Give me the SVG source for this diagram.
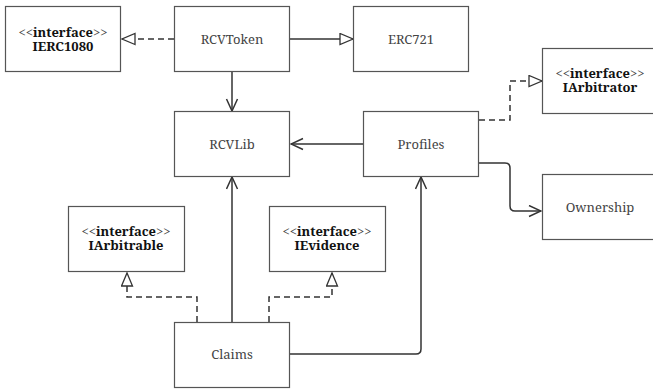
<svg xmlns="http://www.w3.org/2000/svg" width="653" height="392" viewBox="0 0 653 392">
<style>
.box{fill:#fff;stroke:#555;stroke-width:1.2}
.t{font-family:"Noto Serif","Liberation Serif",serif;font-size:13px;fill:#444;text-anchor:middle}
.b{font-weight:bold;fill:#111}
.ln{fill:none;stroke:#333;stroke-width:1.5}
.d{stroke-dasharray:6 4}
</style>
<defs>
<marker id="tri" markerUnits="userSpaceOnUse" markerWidth="16" markerHeight="14" refX="14" refY="6.5" orient="auto">
<path d="M1,1 L14,6.5 L1,12 Z" fill="#fff" stroke="#333" stroke-width="1.3"/>
</marker>
<marker id="open" markerUnits="userSpaceOnUse" markerWidth="14" markerHeight="14" refX="13" refY="6.5" orient="auto">
<path d="M1,1 L13,6.5 L1,12" fill="none" stroke="#333" stroke-width="1.5"/>
</marker>
</defs>
<g id="connectors">
<path class="ln d" d="M174,39 H122" marker-end="url(#tri)"/>
<path class="ln" d="M290,39 H353" marker-end="url(#tri)"/>
<path class="ln" d="M232,71 V111" marker-end="url(#open)"/>
<path class="ln" d="M363,144 H291" marker-end="url(#open)"/>
<path class="ln d" d="M479,120 H510 V81 H542" marker-end="url(#tri)"/>
<path class="ln" d="M479,163 H505 Q510,163 510,168 V206 Q510,211 515,211 H541" marker-end="url(#open)"/>
<path class="ln" d="M232,322 V177" marker-end="url(#open)"/>
<path class="ln d" d="M197,322 V297 H127 V273" marker-end="url(#tri)"/>
<path class="ln d" d="M269,322 V297 H332 V273" marker-end="url(#tri)"/>
<path class="ln" d="M290,354 H416 Q421,354 421,349 V177" marker-end="url(#open)"/>
</g>
<g id="IERC1080">
<rect class="box" x="5.5" y="6.5" width="115" height="65"/>
<text class="t" x="63" y="37"><tspan>&lt;&lt;</tspan><tspan class="b">interface</tspan><tspan>&gt;&gt;</tspan></text>
<text class="t b" x="63" y="51">IERC1080</text>
</g>
<g id="RCVToken">
<rect class="box" x="174.5" y="6.5" width="115" height="65"/>
<text class="t" x="232" y="43.5">RCVToken</text>
</g>
<g id="ERC721">
<rect class="box" x="353.5" y="6.5" width="115" height="65"/>
<text class="t" x="411" y="43.5">ERC721</text>
</g>
<g id="IArbitrator">
<rect class="box" x="542.5" y="48.5" width="115" height="65"/>
<text class="t" x="600" y="78"><tspan>&lt;&lt;</tspan><tspan class="b">interface</tspan><tspan>&gt;&gt;</tspan></text>
<text class="t b" x="600" y="92">IArbitrator</text>
</g>
<g id="RCVLib">
<rect class="box" x="174.5" y="111.5" width="115" height="65"/>
<text class="t" x="232" y="148.5">RCVLib</text>
</g>
<g id="Profiles">
<rect class="box" x="363.5" y="111.5" width="115" height="65"/>
<text class="t" x="421" y="148.5">Profiles</text>
</g>
<g id="Ownership">
<rect class="box" x="542.5" y="174.5" width="115" height="65"/>
<text class="t" x="600" y="211.5">Ownership</text>
</g>
<g id="IArbitrable">
<rect class="box" x="68.5" y="206.5" width="116" height="65"/>
<text class="t" x="126" y="236"><tspan>&lt;&lt;</tspan><tspan class="b">interface</tspan><tspan>&gt;&gt;</tspan></text>
<text class="t b" x="126" y="250">IArbitrable</text>
</g>
<g id="IEvidence">
<rect class="box" x="269.5" y="206.5" width="116" height="65"/>
<text class="t" x="327" y="236"><tspan>&lt;&lt;</tspan><tspan class="b">interface</tspan><tspan>&gt;&gt;</tspan></text>
<text class="t b" x="327" y="250">IEvidence</text>
</g>
<g id="Claims">
<rect class="box" x="174.5" y="322.5" width="115" height="65"/>
<text class="t" x="232" y="358.5">Claims</text>
</g>
</svg>
